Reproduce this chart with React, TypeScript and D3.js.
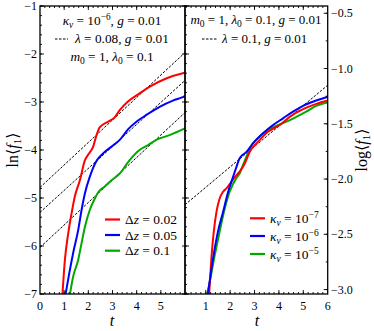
import React from "react";
import * as d3 from "d3";

// left panel: ln<f1> vs t for three grid spacings
const dz02T = [0.93, 1.03, 1.17, 1.31, 1.44, 1.65, 1.86, 1.99, 2.2, 2.34, 2.47, 2.82, 3.09, 3.3, 3.64, 4.12, 4.54, 5.22, 5.91, 6.0];
const dz02V = [-7.0, -6.29, -5.73, -5.31, -4.97, -4.63, -4.21, -4.1, -3.93, -3.69, -3.53, -3.41, -3.32, -3.17, -2.99, -2.82, -2.68, -2.51, -2.4, -2.39];
const dz05T = [1.06, 1.21, 1.37, 1.58, 1.72, 1.86, 2.06, 2.36, 2.61, 2.96, 3.3, 3.64, 3.99, 4.4, 4.95, 5.5, 5.91, 6.0];
const dz05V = [-7.0, -6.57, -6.15, -5.67, -5.25, -4.9, -4.56, -4.21, -4.07, -3.93, -3.79, -3.57, -3.41, -3.27, -3.1, -2.97, -2.9, -2.88];
const dz1T = [1.24, 1.37, 1.58, 1.72, 1.86, 2.06, 2.27, 2.41, 2.68, 2.96, 3.3, 3.71, 4.12, 4.47, 4.81, 5.36, 5.91, 6.0];
const dz1V = [-7.0, -6.64, -6.29, -5.94, -5.6, -5.25, -5.01, -4.88, -4.76, -4.63, -4.49, -4.21, -4.0, -3.9, -3.79, -3.69, -3.57, -3.55];

// left panel dashed fits (start at t=0, end at t=6)
const leftDashT = [0, 6];
const leftDash1 = [-4.78, -1.97];
const leftDash2 = [-5.3, -2.55];
const leftDash3 = [-6.03, -3.22];

// right panel: three viscosities
const k7T = [1.14, 1.23, 1.33, 1.44, 1.57, 1.71, 1.85, 2.2, 2.39, 2.6, 2.8, 3.14, 3.55, 4.03, 4.44, 4.99, 5.53, 6.0];
const k7V = [-7.0, -6.26, -5.7, -5.29, -5.01, -4.87, -4.8, -4.56, -4.45, -4.28, -4.04, -3.83, -3.62, -3.48, -3.31, -3.15, -3.04, -2.97];
const k6T = [1.09, 1.3, 1.5, 1.71, 1.92, 2.12, 2.26, 2.39, 2.67, 2.94, 3.35, 3.76, 4.17, 4.58, 4.99, 5.53, 6.0];
const k6V = [-7.0, -6.26, -5.7, -5.29, -4.87, -4.56, -4.35, -4.17, -4.04, -3.86, -3.65, -3.48, -3.34, -3.2, -3.08, -2.97, -2.89];
const k5T = [1.06, 1.14, 1.37, 1.57, 1.78, 1.98, 2.26, 2.39, 2.53, 2.67, 2.8, 3.21, 3.55, 3.83, 4.31, 4.71, 5.12, 5.53, 6.0];
const k5V = [-7.0, -6.81, -6.19, -5.7, -5.22, -4.87, -4.58, -4.49, -4.31, -4.14, -3.97, -3.72, -3.58, -3.51, -3.41, -3.31, -3.2, -3.08, -3.01];

const rightDashT = [0.15, 6];
const rightDashV = [-5.14, -2.65];

const leftXTicks = [0, 1, 2, 3, 4, 5];
const rightXTicks = [1, 2, 3, 4, 5, 6];
const lnTicks = [-1, -2, -3, -4, -5, -6, -7];
const logTicks = [-0.5, -1.0, -1.5, -2.0, -2.5, -3.0];

const RED = "#ff0000";
const BLUE = "#0000ff";
const GREEN = "#00a800";
const FONT = "Liberation Serif, DejaVu Serif, serif";

const top = 6;
const bottom = 294;
const xL = d3.scaleLinear().domain([0, 6]).range([40, 185]);
const xR = d3.scaleLinear().domain([0.15, 6]).range([185, 327.7]);
const yLn = d3.scaleLinear().domain([-7, -1]).range([bottom, top]);
const yLog = d3.scaleLinear().domain([-7 / Math.LN10, -1 / Math.LN10]).range([bottom, top]);

const zip = (t: number[], v: number[]) => t.map((d, i) => [d, v[i]] as [number, number]);

function pathFor(x: d3.ScaleLinear<number, number>, t: number[], v: number[], smooth = true) {
  const line = d3
    .line<[number, number]>()
    .x((d) => x(d[0]))
    .y((d) => yLn(d[1]));
  if (smooth) line.curve(d3.curveMonotoneX);
  return line(zip(t, v)) || "";
}

function range(a: number, b: number, step: number) {
  const out: number[] = [];
  for (let v = a; v <= b + 1e-9; v += step) out.push(+v.toFixed(4));
  return out;
}

function Frame({ x, left, right }: { x: d3.ScaleLinear<number, number>; left: string; right: string }) {
  const [x0, x1] = x.range();
  const [d0, d1] = x.domain();
  const major = range(Math.ceil(d0), Math.floor(d1), 1).filter((v) => x(v) > x0 + 0.5 && x(v) < x1 - 0.5);
  const minor = range(Math.ceil(d0 * 5) / 5, d1, 0.2).filter((v) => x(v) > x0 + 0.5 && x(v) < x1 - 0.5);
  const lnMajor = range(-7, -1, 1);
  const lnMinor = range(-7, -1, 0.2);
  const logMinor = range(-3.0, -0.5, 0.25);
  const ticks: React.ReactNode[] = [];
  minor.forEach((v, i) => {
    ticks.push(<line key={`bm${i}`} x1={x(v)} x2={x(v)} y1={bottom} y2={bottom - 2} />);
    ticks.push(<line key={`tm${i}`} x1={x(v)} x2={x(v)} y1={top} y2={top + 2} />);
  });
  major.forEach((v, i) => {
    ticks.push(<line key={`bM${i}`} x1={x(v)} x2={x(v)} y1={bottom} y2={bottom - 4} />);
    ticks.push(<line key={`tM${i}`} x1={x(v)} x2={x(v)} y1={top} y2={top + 4} />);
  });
  const side = (kind: string, xe: number, dir: number, key: string) => {
    if (kind === "lnFull") {
      lnMinor.forEach((v, i) => ticks.push(<line key={`${key}m${i}`} x1={xe} x2={xe + dir * 2} y1={yLn(v)} y2={yLn(v)} />));
      lnMajor.forEach((v, i) => ticks.push(<line key={`${key}M${i}`} x1={xe} x2={xe + dir * 4} y1={yLn(v)} y2={yLn(v)} />));
    } else if (kind === "lnMajor") {
      lnMajor.forEach((v, i) => ticks.push(<line key={`${key}M${i}`} x1={xe} x2={xe + dir * 3} y1={yLn(v)} y2={yLn(v)} />));
    } else if (kind === "log") {
      logMinor.forEach((v, i) => ticks.push(<line key={`${key}m${i}`} x1={xe} x2={xe + dir * 2} y1={yLog(v)} y2={yLog(v)} />));
      logTicks.forEach((v, i) => ticks.push(<line key={`${key}M${i}`} x1={xe} x2={xe + dir * 4} y1={yLog(v)} y2={yLog(v)} />));
    }
  };
  side(left, x0, 1, "l");
  side(right, x1, -1, "r");
  return (
    <g stroke="#000" strokeWidth={0.9} fill="none">
      {ticks}
      <rect x={x0} y={top} width={x1 - x0} height={bottom - top} strokeWidth={1.3} />
    </g>
  );
}

// kappa_v = 10^e, followed by optional rest at normal baseline
const kappa = (e: string, rest = "") => [
  <tspan key="k" fontStyle="italic">κ</tspan>,
  <tspan key="v" fontStyle="italic" fontSize="0.7em" dy={3}>v</tspan>,
  <tspan key="eq" dy={-3}> = 10</tspan>,
  <tspan key="e" fontSize="0.7em" dy={-5}>{e}</tspan>,
  ...(rest ? [<tspan key="r" dy={5}>{rest}</tspan>] : []),
];

const dzLabel = (v: string) => [
  <tspan key="d">Δ</tspan>,
  <tspan key="z" fontStyle="italic">z</tspan>,
  <tspan key="v"> = {v}</tspan>,
];

function Legend({ x, ys, colors, labels }: { x: number; ys: number[]; colors: string[]; labels: React.ReactNode[] }) {
  return (
    <g>
      {ys.map((y, i) => (
        <g key={i}>
          <line x1={x} x2={x + 15} y1={y} y2={y} stroke={colors[i]} strokeWidth={2.2} />
          <text x={x + 20} y={y + 4.5} fontSize={13.5}>
            {labels[i]}
          </text>
        </g>
      ))}
    </g>
  );
}

export default function App() {
  return (
    <svg width={374} height={331} style={{ position: "absolute", left: 0, top: 0, background: "#fff", fontFamily: FONT }}>
      <defs>
        <clipPath id="clipL">
          <rect x={40} y={top} width={145} height={bottom - top} />
        </clipPath>
        <clipPath id="clipR">
          <rect x={185} y={top} width={142.7} height={bottom - top} />
        </clipPath>
      </defs>

      {/* left panel curves */}
      <g clipPath="url(#clipL)" fill="none">
        {[leftDash1, leftDash2, leftDash3].map((v, i) => (
          <path key={i} d={pathFor(xL, leftDashT, v, false)} stroke="#000" strokeWidth={1} strokeDasharray="2.5,1.5" />
        ))}
        <path d={pathFor(xL, dz1T, dz1V)} stroke={GREEN} strokeWidth={2} />
        <path d={pathFor(xL, dz05T, dz05V)} stroke={BLUE} strokeWidth={2} />
        <path d={pathFor(xL, dz02T, dz02V)} stroke={RED} strokeWidth={2} />
      </g>

      {/* right panel curves */}
      <g clipPath="url(#clipR)" fill="none">
        <path d={pathFor(xR, rightDashT, rightDashV, false)} stroke="#000" strokeWidth={1} strokeDasharray="2.5,1.5" />
        <path d={pathFor(xR, k5T, k5V)} stroke={GREEN} strokeWidth={2} />
        <path d={pathFor(xR, k7T, k7V)} stroke={RED} strokeWidth={2} />
        <path d={pathFor(xR, k6T, k6V)} stroke={BLUE} strokeWidth={2} />
      </g>

      <Frame x={xL} left="lnFull" right="lnMajor" />
      <Frame x={xR} left="lnFull" right="log" />

      {/* tick labels */}
      <g fontSize={12} fill="#000">
        {leftXTicks.map((v) => (
          <text key={`lx${v}`} x={xL(v)} y={310} textAnchor="middle">{v}</text>
        ))}
        {rightXTicks.map((v) => (
          <text key={`rx${v}`} x={xR(v)} y={310} textAnchor="middle">{v}</text>
        ))}
        {lnTicks.map((v) => (
          <text key={`ly${v}`} x={37} y={yLn(v) + 4} textAnchor="end">{`\u2212${Math.abs(v)}`}</text>
        ))}
        {logTicks.map((v) => (
          <text key={`ry${v}`} x={331} y={yLog(v) + 4}>{`\u2212${Math.abs(v).toFixed(1)}`}</text>
        ))}
      </g>

      {/* axis titles */}
      <text x={112} y={326} fontSize={16} fontStyle="italic" textAnchor="middle">t</text>
      <text x={257} y={326} fontSize={16} fontStyle="italic" textAnchor="middle">t</text>
      <text transform="translate(18,150) rotate(-90)" fontSize={16} textAnchor="middle">
        ln⟨<tspan fontStyle="italic">f</tspan><tspan fontSize={11} dy={3}>1</tspan><tspan dy={-3}>⟩</tspan>
      </text>
      <text transform="translate(367,150) rotate(-90)" fontSize={16} textAnchor="middle">
        log⟨<tspan fontStyle="italic">f</tspan><tspan fontSize={11} dy={3}>1</tspan><tspan dy={-3}>⟩</tspan>
      </text>

      {/* left annotations */}
      <g fontSize={13.3}>
        <text x={112} y={25} textAnchor="middle">
          {kappa("\u22126", ", ")}
          <tspan fontStyle="italic">g</tspan>
          <tspan> = 0.01</tspan>
        </text>
        <line x1={55} x2={68} y1={39} y2={39} stroke="#000" strokeWidth={1.2} strokeDasharray="2.5,1.5" />
        <text x={75} y={43}>
          <tspan fontStyle="italic">λ</tspan> = 0.08, <tspan fontStyle="italic">g</tspan> = 0.01
        </text>
        <text x={112} y={61} textAnchor="middle">
          <tspan fontStyle="italic">m</tspan><tspan fontSize={9.5} dy={3}>0</tspan><tspan dy={-3}> = 1, </tspan>
          <tspan fontStyle="italic">λ</tspan><tspan fontSize={9.5} dy={3}>0</tspan><tspan dy={-3}> = 0.1</tspan>
        </text>
      </g>

      {/* right annotations */}
      <g fontSize={13}>
        <text x={256} y={24} textAnchor="middle">
          <tspan fontStyle="italic">m</tspan><tspan fontSize={9.5} dy={3}>0</tspan><tspan dy={-3}> = 1, </tspan>
          <tspan fontStyle="italic">λ</tspan><tspan fontSize={9.5} dy={3}>0</tspan><tspan dy={-3}> = 0.1, </tspan>
          <tspan fontStyle="italic">g</tspan> = 0.01
        </text>
        <line x1={202} x2={217} y1={39} y2={39} stroke="#000" strokeWidth={1.2} strokeDasharray="2.5,1.5" />
        <text x={222} y={43}>
          <tspan fontStyle="italic">λ</tspan> = 0.1, <tspan fontStyle="italic">g</tspan> = 0.01
        </text>
      </g>

      <Legend
        x={105}
        ys={[219.5, 235, 250.7]}
        colors={[RED, BLUE, GREEN]}
        labels={[dzLabel("0.02"), dzLabel("0.05"), dzLabel("0.1")]}
      />
      <Legend
        x={250}
        ys={[218.3, 236, 254]}
        colors={[RED, BLUE, GREEN]}
        labels={[kappa("\u22127"), kappa("\u22126"), kappa("\u22125")]}
      />
    </svg>
  );
}
